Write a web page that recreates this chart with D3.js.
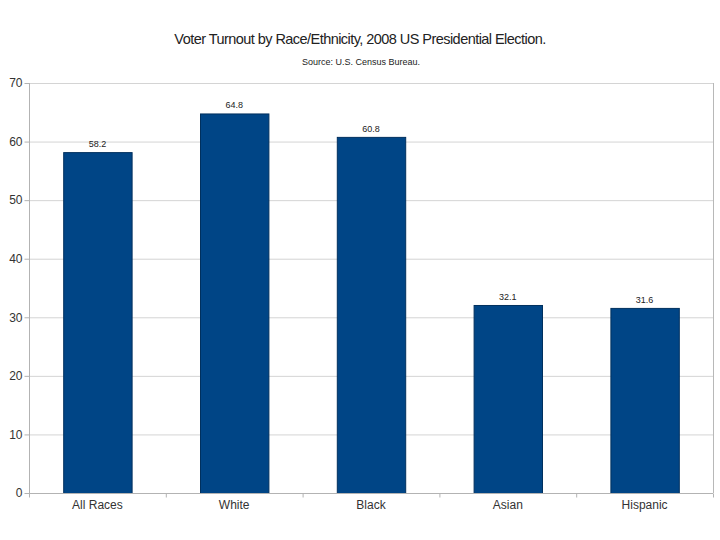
<!DOCTYPE html>
<html>
<head>
    <meta charset="UTF-8">
    <title>Voter Turnout by Race/Ethnicity</title>
    <style>
        body { margin: 0; background: #fff; font-family: "Liberation Sans", Arial, sans-serif; }
        .grid line { stroke: #d4d4d4; stroke-width: 1px; }
        .axis text { fill: #333; }
    </style>
    <script src="https://d3js.org/d3.v7.min.js"></script>
</head>
<body>
<div id="chart"></div>
<script>
    var categories = ["All Races", "White", "Black", "Asian", "Hispanic"];
    var turnout = [58.2, 64.8, 60.8, 32.1, 31.6];
    var yTicks = [0, 10, 20, 30, 40, 50, 60, 70];

    var width = 720, height = 540;
    var margin = {top: 83, right: 7, bottom: 47, left: 29};
    var innerW = width - margin.left - margin.right,
        innerH = height - margin.top - margin.bottom;

    var svg = d3.select("#chart").append("svg")
        .attr("width", width)
        .attr("height", height);

    svg.append("text")
        .attr("x", 360).attr("y", 44)
        .attr("text-anchor", "middle")
        .style("font-size", "14.5px")
        .style("letter-spacing", "-0.55px")
        .style("fill", "#222")
        .text("Voter Turnout by Race/Ethnicity, 2008 US Presidential Election.");

    svg.append("text")
        .attr("x", 361).attr("y", 65)
        .attr("text-anchor", "middle")
        .style("font-size", "9px")
        .style("fill", "#222")
        .text("Source: U.S. Census Bureau.");

    var g = svg.append("g")
        .attr("transform", "translate(" + margin.left + "," + margin.top + ")");

    var x = d3.scaleBand()
        .domain(categories)
        .range([0, innerW])
        .paddingInner(0.5)
        .paddingOuter(0.25);

    var y = d3.scaleLinear()
        .domain([0, 70])
        .range([innerH, 0]);

    // gridlines
    g.append("g").attr("class", "grid")
        .selectAll("line")
        .data(yTicks)
        .enter().append("line")
        .attr("x1", 0).attr("x2", innerW)
        .attr("y1", function (d) { return y(d) + 0.5; })
        .attr("y2", function (d) { return y(d) + 0.5; });

    // right frame line
    g.append("line")
        .attr("x1", innerW + 0.5).attr("x2", innerW + 0.5)
        .attr("y1", 0).attr("y2", innerH)
        .style("stroke", "#b8b8b8");

    // bars
    g.selectAll("rect.bar")
        .data(turnout)
        .enter().append("rect")
        .attr("class", "bar")
        .attr("x", function (d, i) { return x(categories[i]) + 0.5; })
        .attr("width", x.bandwidth())
        .attr("y", function (d) { return y(d) + 0.5; })
        .attr("height", function (d) { return innerH - y(d); })
        .style("fill", "#004586")
        .style("stroke", "#00305e")
        .style("stroke-width", 1);

    // value labels
    g.selectAll("text.val")
        .data(turnout)
        .enter().append("text")
        .attr("class", "val")
        .attr("x", function (d, i) { return x(categories[i]) + x.bandwidth() / 2; })
        .attr("y", function (d) { return y(d) - 5; })
        .attr("text-anchor", "middle")
        .style("font-size", "9px")
        .style("fill", "#222")
        .text(function (d) { return d.toFixed(1); });

    // y axis
    var yAxis = d3.axisLeft(y).tickValues(yTicks).tickSize(5).tickPadding(2);
    var ya = g.append("g").attr("class", "axis")
        .attr("transform", "translate(0.5,0)")
        .call(yAxis);
    ya.select(".domain").style("stroke", "#b3b3b3").attr("d", "M0," + y(70) + "V" + (innerH + 0.5));
    ya.selectAll(".tick line").style("stroke", "#b3b3b3");
    ya.selectAll("text").style("font-size", "12px");

    // x axis
    var xa = g.append("g").attr("class", "axis")
        .attr("transform", "translate(0," + (innerH + 0.5) + ")")
        .call(d3.axisBottom(x).tickSize(0).tickPadding(7));
    xa.select(".domain").style("stroke", "#b3b3b3").attr("d", "M0,0H" + innerW);
    xa.selectAll("text").style("font-size", "12px");

    // small ticks at category boundaries
    var bounds = d3.range(categories.length + 1).map(function (i) { return i * x.step(); });
    xa.selectAll("line.bound")
        .data(bounds)
        .enter().append("line")
        .attr("class", "bound")
        .attr("x1", function (d) { return d + 0.5; })
        .attr("x2", function (d) { return d + 0.5; })
        .attr("y1", 0).attr("y2", 4)
        .style("stroke", "#b3b3b3");
</script>
</body>
</html>
